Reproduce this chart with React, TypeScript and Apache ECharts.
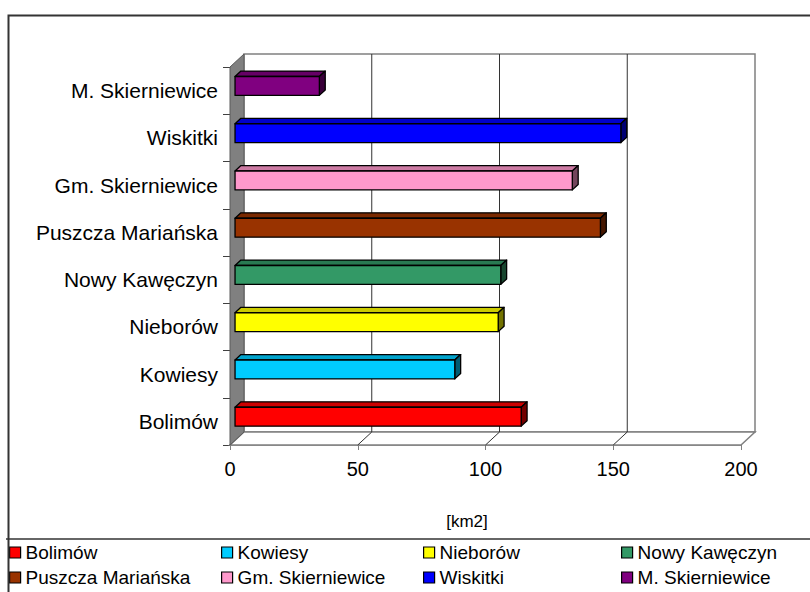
import React, { useEffect, useRef } from "react";
import * as echarts from "echarts";

const categories = [
  "Bolimów",
  "Kowiesy",
  "Nieborów",
  "Nowy Kawęczyn",
  "Puszcza Mariańska",
  "Gm. Skierniewice",
  "Wiskitki",
  "M. Skierniewice",
];
const values = [112, 86, 103, 104, 143, 132, 151, 33];
const colors = ["#FF0000", "#00CCFF", "#FFFF00", "#339966", "#993300", "#FF99CC", "#0000FF", "#800080"];
const xTicks = [0, 50, 100, 150, 200];
const legendColumns = [
  ["Bolimów", "Puszcza Mariańska"],
  ["Kowiesy", "Gm. Skierniewice"],
  ["Nieborów", "Wiskitki"],
  ["Nowy Kawęczyn", "M. Skierniewice"],
];
const unitLabel = "[km2]";

const FONT = "'Liberation Sans', Arial, sans-serif";
const DX = 14;
const DY = 13;

function shade(hex: string, f: number): string {
  const n = parseInt(hex.slice(1), 16);
  const r = Math.round(((n >> 16) & 255) * f);
  const g = Math.round(((n >> 8) & 255) * f);
  const b = Math.round((n & 255) * f);
  return `rgb(${r},${g},${b})`;
}

export default function App() {
  const ref = useRef<HTMLDivElement>(null);
  useEffect(() => {
    if (!ref.current) return;
    const chart = echarts.init(ref.current, null, { renderer: "svg" });

    const frameSeries: any = {
      type: "custom",
      name: "__frame",
      z: 1,
      silent: true,
      data: [[0, 0]],
      renderItem: (params: any, api: any) => {
        const cs = params.coordSys;
        const x0 = cs.x, y0 = cs.y, w = cs.width, h = cs.height;
        const yB = y0 + h;
        const children: any[] = [];
        children.push({
          type: "rect",
          shape: { x: x0 + DX, y: y0 - DY, width: w, height: h },
          style: { fill: "#fff", stroke: "#808080", lineWidth: 1.5 },
        });
        children.push({
          type: "polygon",
          shape: { points: [[x0, yB], [x0 + w, yB], [x0 + w + DX, yB - DY], [x0 + DX, yB - DY]] },
          style: { fill: "#fff", stroke: "#808080", lineWidth: 1.5 },
        });
        xTicks.forEach((t, i) => {
          if (i === 0 || i === xTicks.length - 1) return;
          const px = api.coord([t, 0])[0];
          children.push({
            type: "line",
            shape: { x1: px + DX, y1: y0 - DY, x2: px + DX, y2: yB - DY },
            style: { stroke: "#333", lineWidth: 1 },
          });
          children.push({
            type: "line",
            shape: { x1: px, y1: yB, x2: px + DX, y2: yB - DY },
            style: { stroke: "#333", lineWidth: 1 },
          });
        });
        children.push({
          type: "polygon",
          shape: { points: [[x0, yB], [x0 + DX, yB - DY], [x0 + DX, y0 - DY], [x0, y0]] },
          style: { fill: "#808080", stroke: "#5a5a5a", lineWidth: 1 },
        });
        return { type: "group", children };
      },
    };

    const barSeries: any[] = categories.map((name, i) => ({
      type: "custom",
      name,
      z: 3,
      itemStyle: { color: colors[i], borderColor: "#000", borderWidth: 1 },
      data: [[values[i], i]],
      renderItem: (params: any, api: any) => {
        const v = api.value(0);
        const idx = api.value(1);
        const start = api.coord([0, idx]);
        const end = api.coord([v, idx]);
        const band = api.size([0, 1])[1];
        const bh = band * 0.4;
        const fx = DX * 0.36, fy = DY * 0.36;
        const dx = DX * 0.42, dy = DY * 0.42;
        const x1 = start[0] + fx;
        const x2 = end[0] + fx;
        const yc = end[1] - fy;
        const top = yc - bh / 2;
        const bottom = yc + bh / 2;
        const c = colors[i];
        const st = { stroke: "#000", lineWidth: 1.3, lineJoin: "round" };
        return {
          type: "group",
          children: [
            {
              type: "polygon",
              shape: { points: [[x1, top], [x2, top], [x2 + dx, top - dy], [x1 + dx, top - dy]] },
              style: { fill: shade(c, 0.8), ...st },
            },
            {
              type: "polygon",
              shape: { points: [[x2, top], [x2, bottom], [x2 + dx, bottom - dy], [x2 + dx, top - dy]] },
              style: { fill: shade(c, 0.45), ...st },
            },
            {
              type: "rect",
              shape: { x: x1, y: top, width: x2 - x1, height: bh },
              style: { fill: c, ...st },
            },
          ],
        };
      },
    }));

    const legendLefts = [9, 221, 423, 621];
    const legendTops = [543, 568];
    const legends: any[] = [];
    legendColumns.forEach((names, c) => {
      names.forEach((n, r) => {
        legends.push({
          data: [n],
          orient: "horizontal",
          left: legendLefts[c],
          top: legendTops[r],
          itemWidth: 11,
          itemHeight: 11,
          itemGap: 5,
          padding: 0,
          icon: "rect",
          selectedMode: false,
          itemStyle: { borderColor: "#000", borderWidth: 1.2 },
          textStyle: { fontSize: 19, fontFamily: FONT, color: "#000" },
        });
      });
    });

    chart.setOption({
      animation: false,
      backgroundColor: "#fff",
      grid: { left: 230, top: 67, width: 511, height: 378 },
      xAxis: {
        type: "value",
        min: 0,
        max: 200,
        interval: 50,
        axisLine: { show: true, lineStyle: { color: "#808080", width: 1.5 } },
        axisTick: { show: true, length: 5, lineStyle: { color: "#808080" } },
        splitLine: { show: false },
        axisLabel: { fontSize: 20, fontFamily: FONT, color: "#000", margin: 14 },
      },
      yAxis: {
        type: "category",
        data: categories,
        axisLine: { show: true, lineStyle: { color: "#808080" } },
        axisTick: { show: true, length: 7, lineStyle: { color: "#404040" } },
        axisLabel: { fontSize: 21, fontFamily: FONT, color: "#000", margin: 12 },
      },
      legend: legends,
      graphic: [
        {
          type: "rect",
          left: 6,
          top: 13,
          shape: { width: 830, height: 600 },
          style: { fill: "none", stroke: "#333", lineWidth: 2 },
          z: 100,
        },
        {
          type: "line",
          shape: { x1: 6, y1: 539, x2: 810, y2: 539 },
          style: { stroke: "#333", lineWidth: 1.5 },
          z: 100,
        },
        {
          type: "text",
          x: 467,
          y: 521,
          style: {
            text: unitLabel,
            fontSize: 17,
            fontFamily: FONT,
            fill: "#000",
            align: "center",
            verticalAlign: "middle",
          },
          z: 100,
        },
      ],
      series: [frameSeries, ...barSeries],
    });
    return () => chart.dispose();
  }, []);
  return (
    <div
      ref={ref}
      style={{ position: "fixed", left: 0, top: 0, width: 810, height: 592 }}
    />
  );
}
